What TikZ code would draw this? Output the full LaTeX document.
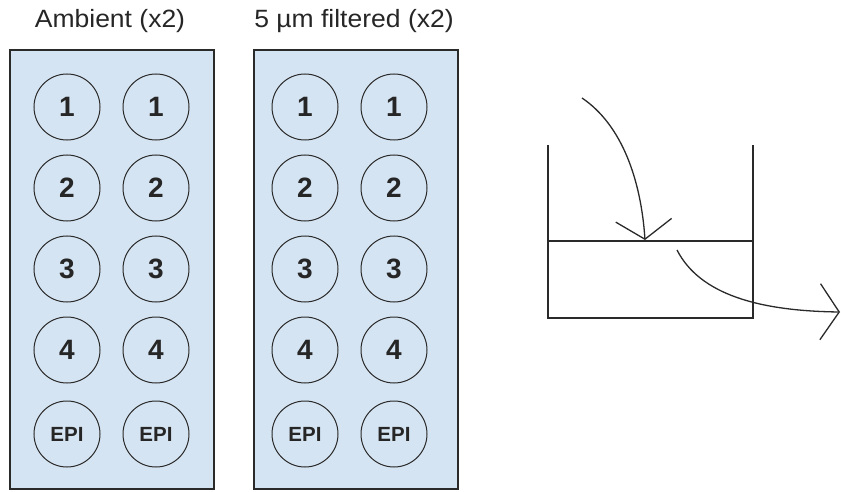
\documentclass[tikz,border=0pt]{standalone}
\usepackage{fontspec}
\setmainfont{Liberation Sans}
\usetikzlibrary{arrows.meta}
\definecolor{panelfill}{HTML}{D5E4F2}
\definecolor{inkc}{HTML}{2A2A2A}
\tikzset{
  panel/.style={draw=inkc, line width=1.2pt, fill=panelfill},
  well/.style={circle, draw=inkc, line width=1pt, minimum size=66pt, inner sep=0pt, font=\fontsize{28}{30}\selectfont\bfseries, text=black!85},
  epiwell/.style={well, font=\fontsize{20.5}{23}\selectfont\bfseries},
  title/.style={font=\fontsize{25}{28}\selectfont, text=black!85, anchor=base, xscale=1.06},
  beaker/.style={draw=inkc, line width=1.3pt},
  flow/.style={draw=inkc, line width=1.3pt, -{Straight Barb[length=19pt,width=56pt,line width=1.3pt]}}
}
\begin{document}
\begin{tikzpicture}[x=1pt,y=-1pt]
\useasboundingbox (0,0) rectangle (841,492);
% titles
\node[title] (t1) at (110,28) {Ambient (x2)};
\node[title] (t2) at (354,28) {5 µm filtered (x2)};
% panels
\draw[panel] (10,50) rectangle (214,489);
\draw[panel] (254,50) rectangle (458,489);
% wells
\foreach \lab/\y [count=\i] in {1/107,2/188,3/269,4/350} {
  \node[well] (a\i l) at (67,\y) {\lab};
  \node[well] (a\i r) at (156,\y) {\lab};
  \node[well] (b\i l) at (305,\y) {\lab};
  \node[well] (b\i r) at (394,\y) {\lab};
}
\node[epiwell] (a5l) at (67,434) {EPI};
\node[epiwell] (a5r) at (156,434) {EPI};
\node[epiwell] (b5l) at (305,434) {EPI};
\node[epiwell] (b5r) at (394,434) {EPI};
% beaker
\coordinate (bl) at (548,145);
\coordinate (br) at (753,145);
\draw[beaker] (bl) -- (548,318) -- (753,318) -- (br);
\coordinate (sl) at (548,241);
\coordinate (sr) at (753,241);
\draw[beaker] (sl) -- (sr);
% flows
\coordinate (in0) at (582,98);
\coordinate (in1) at (645,240);
\draw[flow] (in0) .. controls (622,125) and (641,180) .. (in1);
\coordinate (out0) at (677,250);
\coordinate (out1) at (840,312);
\draw[flow] (out0) .. controls (700,295) and (760,311) .. (out1);
\end{tikzpicture}
\end{document}
